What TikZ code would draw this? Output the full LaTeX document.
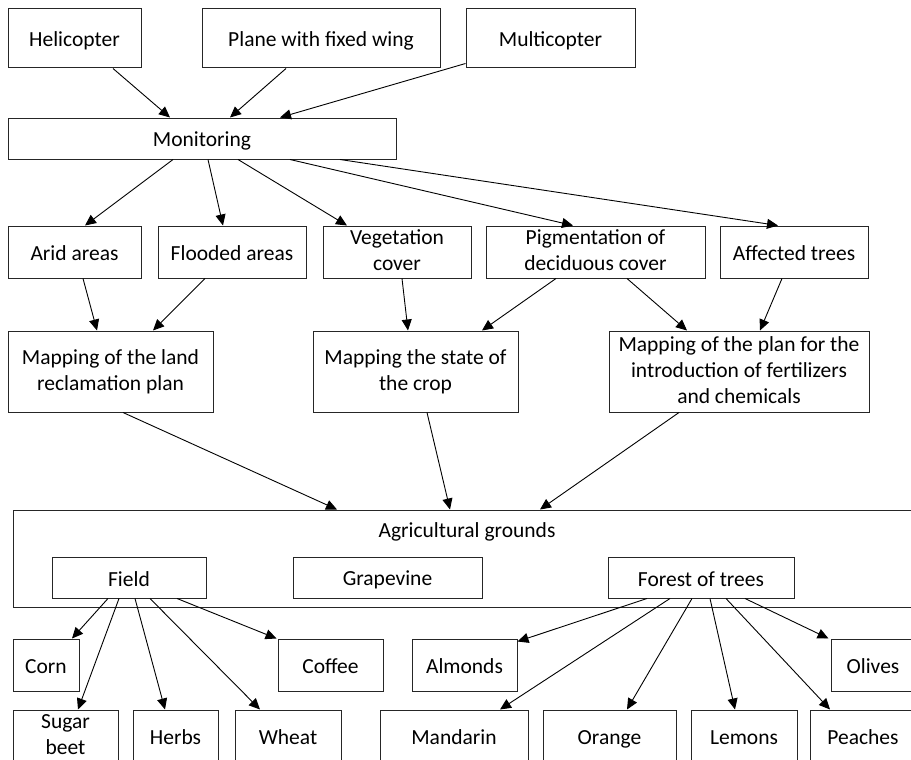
\documentclass[tikz,border=0pt]{standalone}
\usepackage{fontspec}
\setmainfont{Carlito}
\usetikzlibrary{arrows.meta}
\newcommand\boxstrut{\rule[-3pt]{0pt}{23pt}}

\begin{document}
\begin{tikzpicture}[x=1pt,y=-1pt,
    box/.style={draw=black!85,line width=1pt,inner sep=0pt,align=center,font=\fontsize{21.5}{26}\selectfont,
        execute at begin node=\boxstrut,execute at end node=\boxstrut},
    arr/.style={line width=0.9pt,-{Triangle[length=11pt,width=10pt]}}]
    \useasboundingbox (0,0) rectangle (911,760);
    \clip (0,0) rectangle (911,760);
    \node[box,minimum width=133pt,minimum height=59pt] (heli) at (74.5,38.5) {Helicopter};
    \node[box,minimum width=238pt,minimum height=59pt] (plane) at (321,38.5) {Plane with fixed wing};
    \node[box,minimum width=169pt,minimum height=59pt] (multi) at (550.5,38.5) {Multicopter};
    \node[box,minimum width=388pt,minimum height=41pt] (monit) at (202,138.5) {Monitoring};

    \node[box,minimum width=133pt,minimum height=52pt] (arid) at (74.5,252) {Arid areas};
    \node[box,minimum width=148pt,minimum height=52pt] (flood) at (232,252) {Flooded areas};
    \node[box,minimum width=148pt,minimum height=52pt] (veget) at (397,252) {Vegetation\\cover};
    \node[box,minimum width=219pt,minimum height=52pt] (pigm) at (595.5,252) {Pigmentation of\\deciduous cover};
    \node[box,minimum width=148pt,minimum height=52pt] (affect) at (794,252) {Affected trees};

    \node[box,minimum width=205pt,minimum height=81pt] (mapland) at (110.5,371.5) {Mapping of the land\\reclamation plan};
    \node[box,minimum width=205pt,minimum height=81pt] (mapcrop) at (415.5,371.5) {Mapping the state of\\the crop};
    \node[box,minimum width=260pt,minimum height=81pt] (mapplan) at (739,371.5) {Mapping of the plan for the\\introduction of fertilizers\\and chemicals};

    \node[box,minimum width=908pt,minimum height=97pt] (agri) at (467,558.5) {};
    \node[box,draw=none] (agritext) at (467,529) {Agricultural grounds};
    \node[box,minimum width=154pt,minimum height=41pt] (field) at (129,577.5) {Field};
    \node[box,minimum width=189pt,minimum height=41pt] (grape) at (387.5,577.5) {Grapevine};
    \node[box,minimum width=186pt,minimum height=41pt] (forest) at (701,577.5) {Forest of trees};

    \node[box,minimum width=66pt,minimum height=52pt] (corn) at (46,665) {Corn};
    \node[box,minimum width=105pt,minimum height=52pt] (coffee) at (330.5,665) {Coffee};
    \node[box,minimum width=105pt,minimum height=52pt] (almonds) at (464.5,665) {Almonds};
    \node[box,minimum width=84pt,minimum height=52pt] (olives) at (873,665) {Olives};
    \node[box,minimum width=105pt,minimum height=52pt] (sugar) at (65.5,736) {Sugar\\beet};
    \node[box,minimum width=85pt,minimum height=52pt] (herbs) at (175.5,736) {Herbs};
    \node[box,minimum width=106pt,minimum height=52pt] (wheat) at (288,736) {Wheat};
    \node[box,minimum width=148pt,minimum height=52pt] (mandarin) at (454,736) {Mandarin};
    \node[box,minimum width=133pt,minimum height=52pt] (orange) at (609.5,736) {Orange};
    \node[box,minimum width=106pt,minimum height=52pt] (lemons) at (744,736) {Lemons};
    \node[box,minimum width=106pt,minimum height=52pt] (peaches) at (863,736) {Peaches};

    \draw[arr] ([xshift=38.5pt]heli.south) -- ([xshift=-32pt]monit.north);
    \draw[arr] ([xshift=-35pt]plane.south) -- ([xshift=28pt]monit.north);
    \draw[arr] ([yshift=5pt]multi.south west) -- ([xshift=78pt]monit.north);

    \foreach \s/\t/\e in {-29/arid/10.5,6/flood/-9,36/veget/-50,88/pigm/-22.5,138/affect/-16}{
        \draw[arr] ([xshift=\s pt]monit.south) -- ([xshift=\e pt]\t.north);
    }

    \draw[arr] ([xshift=8.5pt]arid.south) -- ([xshift=-13.5pt]mapland.north);
    \draw[arr] ([xshift=-27pt]flood.south) -- ([xshift=42.5pt]mapland.north);
    \draw[arr] ([xshift=5pt]veget.south) -- ([xshift=-7.5pt]mapcrop.north);
    \draw[arr] ([xshift=-39.5pt]pigm.south) -- ([xshift=66.5pt]mapcrop.north);
    \draw[arr] ([xshift=31.5pt]pigm.south) -- ([xshift=-52pt]mapplan.north);
    \draw[arr] ([xshift=-12pt]affect.south) -- ([xshift=21pt]mapplan.north);

    \draw[arr] ([xshift=12.5pt]mapland.south) -- ([xshift=-130pt]agri.north);
    \draw[arr] ([xshift=11.5pt]mapcrop.south) -- ([xshift=-17pt]agri.north);
    \draw[arr] ([xshift=-60pt]mapplan.south) -- ([xshift=73pt]agri.north);

    \foreach \s/\t/\e in {-10/sugar/12.5,6/herbs/-10.5,21/wheat/-28}{
        \draw[arr] ([xshift=\s pt]field.south) -- ([xshift=\e pt]\t.north);
    }
    \draw[arr] ([xshift=-21pt]field.south) -- ([xshift=26pt]corn.north);
    \draw[arr] ([xshift=48pt]field.south) -- ([xshift=-1pt]coffee.north west);

    \foreach \s/\t/\e in {-31/mandarin/46,-9/orange/17.5,9/lemons/-9,25/peaches/-33}{
        \draw[arr] ([xshift=\s pt]forest.south) -- ([xshift=\e pt]\t.north);
    }
    \draw[arr] ([xshift=-54pt]forest.south) -- ([yshift=-3pt]almonds.north east);
    \draw[arr] ([xshift=44pt]forest.south) -- ([xshift=-2pt]olives.north west);
\end{tikzpicture}
\end{document}
